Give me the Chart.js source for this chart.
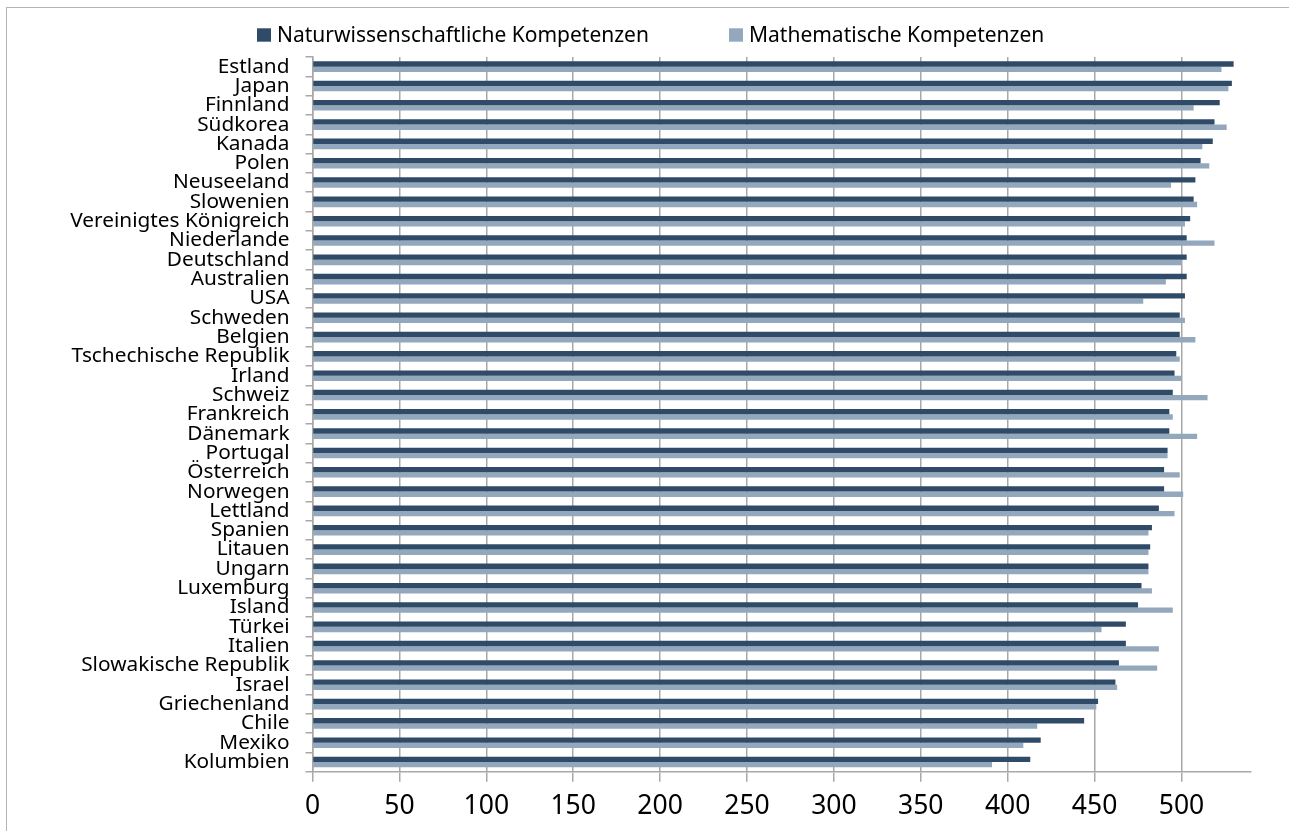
<!DOCTYPE html>
<html lang="de">
<head>
<meta charset="utf-8">
<title>PISA – Naturwissenschaften und Mathematik</title>
<script src="https://cdn.jsdelivr.net/npm/chart.js@4.4.1/dist/chart.umd.min.js"></script>
<style>
  html, body { margin: 0; padding: 0; background: #fff; overflow: hidden; }
  #frame { position: absolute; left: 6px; top: 7px; width: 1400px; height: 900px;
           border: 1px solid #B4B4B4; box-sizing: border-box; }
  #wrap { position: absolute; left: 0; top: 0; width: 1289px; height: 831px; }
</style>
</head>
<body>
<div id="frame"></div>
<div id="wrap"><canvas id="chart"></canvas></div>
<script>
// Länder, von oben nach unten
const countries = [
  'Estland', 'Japan', 'Finnland', 'Südkorea', 'Kanada', 'Polen', 'Neuseeland',
  'Slowenien', 'Vereinigtes Königreich', 'Niederlande', 'Deutschland', 'Australien',
  'USA', 'Schweden', 'Belgien', 'Tschechische Republik', 'Irland', 'Schweiz',
  'Frankreich', 'Dänemark', 'Portugal', 'Österreich', 'Norwegen', 'Lettland',
  'Spanien', 'Litauen', 'Ungarn', 'Luxemburg', 'Island', 'Türkei', 'Italien',
  'Slowakische Republik', 'Israel', 'Griechenland', 'Chile', 'Mexiko', 'Kolumbien'
];

// Punktwerte Naturwissenschaften
const scienceScores = [
  530, 529, 522, 519, 518, 511, 508, 507, 505, 503, 503, 503, 502, 499, 499, 497,
  496, 495, 493, 493, 492, 490, 490, 487, 483, 482, 481, 477, 475, 468, 468, 464,
  462, 452, 444, 419, 413
];

// Punktwerte Mathematik
const mathScores = [
  523, 527, 507, 526, 512, 516, 494, 509, 502, 519, 500, 491, 478, 502, 508, 499,
  500, 515, 495, 509, 492, 499, 501, 496, 481, 481, 481, 483, 495, 454, 487, 486,
  463, 451, 417, 409, 391
];

const seriesNames = ['Naturwissenschaftliche Kompetenzen', 'Mathematische Kompetenzen'];
const xTickValues = [0, 50, 100, 150, 200, 250, 300, 350, 400, 450, 500];
const xMax = 540;

const DARK = '#2F4B68';
const LIGHT = '#93A8BD';
const GRID = '#A8A8A8';
const FONT = "'Noto Sans', sans-serif";

// Legende oben: Farbfeld + Text je Reihe
const topLegend = {
  id: 'topLegend',
  afterDraw(chart) {
    const ctx = chart.ctx;
    const starts = [257, 729];
    ctx.save();
    ctx.font = "21px 'Noto Sans'";
    ctx.textBaseline = 'alphabetic';
    ctx.textAlign = 'left';
    chart.data.datasets.forEach((ds, i) => {
      const x = starts[i];
      ctx.fillStyle = ds.backgroundColor;
      ctx.fillRect(x, 28.3, 14, 13.4);
      ctx.fillStyle = '#000';
      ctx.fillText(ds.label, x + 20, 41.7);
    });
    ctx.restore();
  }
};

new Chart(document.getElementById('chart'), {
  type: 'bar',
  data: {
    labels: countries,
    datasets: [
      { label: seriesNames[0], data: scienceScores, backgroundColor: DARK, borderWidth: 0 },
      { label: seriesNames[1], data: mathScores, backgroundColor: LIGHT, borderWidth: 0 }
    ]
  },
  options: {
    indexAxis: 'y',
    responsive: true,
    maintainAspectRatio: false,
    animation: false,
    devicePixelRatio: 1,
    categoryPercentage: 0.55,
    barPercentage: 1,
    layout: { padding: { top: 57, right: 38, left: 0, bottom: 0 } },
    plugins: {
      legend: { display: false },
      tooltip: { enabled: false }
    },
    scales: {
      x: {
        type: 'linear',
        min: 0,
        max: xMax,
        z: 1,
        afterBuildTicks(scale) {
          scale.ticks = xTickValues.map(v => ({ value: v }));
        },
        afterFit(scale) { scale.height = 59.3; },
        ticks: {
          font: { family: FONT, size: 26.5 },
          color: '#000',
          padding: 9,
          maxRotation: 0,
          autoSkip: false
        },
        grid: { color: GRID, lineWidth: 1.5, tickLength: 10, drawTicks: true },
        border: { color: GRID, width: 1.5 }
      },
      y: {
        afterFit(scale) { scale.width = 312.5; },
        ticks: {
          font: { family: FONT, size: 20.8 },
          color: '#000',
          padding: 16,
          autoSkip: false
        },
        grid: { offset: true, drawOnChartArea: false, tickLength: 7, color: GRID, lineWidth: 1.5 },
        border: { color: GRID, width: 1.5 }
      }
    }
  },
  plugins: [topLegend]
});
</script>
</body>
</html>
